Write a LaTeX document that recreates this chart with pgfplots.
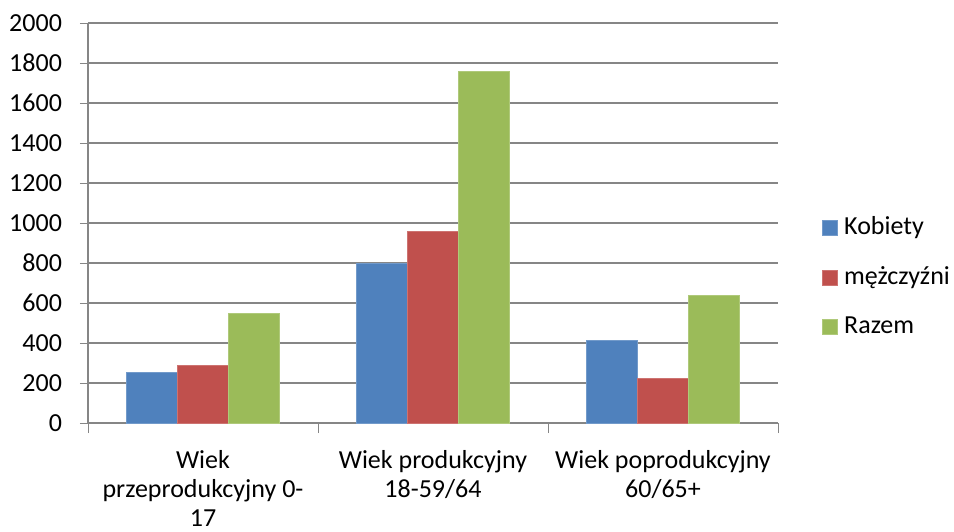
\documentclass[border=0pt]{standalone}
\usepackage{pgfplots}
\pgfplotsset{compat=1.18}
\usepackage{fontspec}
\setmainfont{Carlito}
\definecolor{cb}{HTML}{4F81BD}
\definecolor{cr}{HTML}{C0504D}
\definecolor{cg}{HTML}{9BBB59}
\definecolor{gl}{HTML}{868686}
\begin{document}
\fontsize{13}{15}\selectfont
\begin{tikzpicture}
\begin{axis}[
  name=ax,
  scale only axis, width=345pt, height=200pt,
  font=\fontsize{13}{15}\selectfont,
  ybar=0pt, bar width=0.222,
  xmin=-0.5, xmax=2.5, ymin=0, ymax=2000,
  ytick={0,200,...,2000},
  xtick={0,1,2},
  xticklabels={{Wiek\\przeprodukcyjny 0-\\17},{Wiek produkcyjny\\18-59/64},{Wiek poprodukcyjny\\60/65+}},
  xticklabel style={align=center, yshift=-5pt, font=\fontsize{13}{14.6}\selectfont},
  major x tick style={draw=none},
  extra x ticks={-0.5,0.5,1.5,2.5},
  extra x tick labels={},
  extra x tick style={major tick length=5pt, tick align=outside, grid=none, major x tick style={draw=gl}},
  tick align=outside,
  major tick length=4pt,
  y tick style={draw=gl},
  ymajorgrids, grid style={draw=gl, line width=0.6pt},
  axis x line*=bottom, axis y line*=left,
  axis line style={draw=gl, line width=0.6pt},
  y axis line style={-}, x axis line style={-},
  scaled y ticks=false,
  /pgf/number format/assume math mode=true,
  yticklabel style={/pgf/number format/1000 sep={}, xshift=-4.5pt},
  legend style={at={(1,0.365)}, anchor=west, xshift=22pt, draw=none, fill=none,
    row sep=10pt, font=\fontsize{13}{15}\selectfont, inner sep=0pt,
    nodes={inner xsep=3pt}},
  legend cell align=left,
  legend image code/.code={\fill[#1] (0pt,-3.75pt) rectangle (7.5pt,3.75pt);},
]
\addplot[fill=cb, draw=cb!80!white] coordinates {(0,255) (1,800) (2,415)};
\addplot[fill=cr, draw=cr!80!white] coordinates {(0,290) (1,958) (2,221)};
\addplot[fill=cg, draw=cg!80!white] coordinates {(0,550) (1,1756) (2,640)};
\legend{Kobiety, mężczyźni, Razem}
\end{axis}
\pgfresetboundingbox
\path ([xshift=-44pt,yshift=-54pt]ax.south west) rectangle ([xshift=88pt,yshift=11.5pt]ax.north east);
\end{tikzpicture}
\end{document}
